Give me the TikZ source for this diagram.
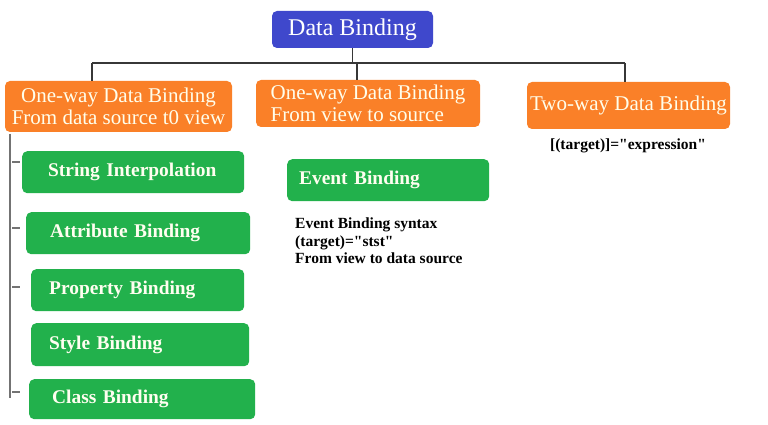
\documentclass[tikz,border=0pt]{standalone}
\usepackage{fontspec}
\setmainfont{Liberation Serif}
\newfontfamily\quotefont{Liberation Serif}
\usepackage{xcolor}
\usepackage{tikz}
\usetikzlibrary{positioning,calc}
\definecolor{titleblue}{RGB}{63,72,204}
\definecolor{warm}{RGB}{250,128,40}
\definecolor{leaf}{RGB}{34,177,76}
\definecolor{wire}{RGB}{55,55,55}
\definecolor{rail}{RGB}{115,115,115}
\newcommand{\dq}{{\quotefont"}}
\tikzset{
  headbox/.style={rectangle, rounded corners=5pt, fill=titleblue, text=white,
                  font=\fontsize{24}{26}\selectfont, inner sep=0pt},
  wayBox/.style={rectangle, rounded corners=5pt, fill=warm, text=white!92!yellow,
                 font=\fontsize{21}{22}\selectfont, inner sep=0pt},
  leafbox/.style={rectangle, rounded corners=5pt, fill=leaf, text=white!94!yellow,
                  font=\bfseries\fontsize{19.4}{22}\selectfont, align=left,
                  inner ysep=0pt, anchor=north west},
  note/.style={font=\bfseries\fontsize{15.5}{17.5}\selectfont, inner sep=0pt, align=left},
  conn/.style={draw=wire, line width=1.1pt},
  railline/.style={draw=rail, line width=1.4pt},
}
\begin{document}
\begin{tikzpicture}[x=1pt,y=-1pt]
  \useasboundingbox[fill=white] (0,0) rectangle (768,425);
  % top of the tree
  \node[headbox, minimum width=161pt, minimum height=37pt] (title) at (352.5,29.5) {Data Binding};
  % three kinds of binding
  \node[wayBox, minimum width=227pt, minimum height=51pt, align=center] (ow1) at (118.5,106.5)
       {One-way Data Binding\\From data source t0 view};
  \node[wayBox, minimum width=224pt, minimum height=47pt, align=left] (ow2) at (368,103.5)
       {One-way Data Binding\\From view to source};
  \node[wayBox, minimum width=203pt, minimum height=47pt] (tw) at (628.5,105.5) {Two-way Data Binding};
  % bus
  \coordinate (busL) at (92,63);
  \coordinate (busM) at (357,63);
  \coordinate (busR) at (625,63);
  \draw[conn] (busL) -- (busR);
  \draw[conn] (title.south) -- (title.south |- busL);
  \draw[conn] (busL) -- (busL |- ow1.north);
  \draw[conn] (busM) -- (busM |- ow2.north);
  \draw[conn] (busR) -- (busR |- tw.north);
  % one-way, source to view
  \node[leafbox, inner xsep=26pt, text width=170pt, minimum height=42pt] (strint) at (22,151) {String Interpolation};
  \node[leafbox, inner xsep=24pt, text width=176pt, minimum height=42pt] (attr) at (26,212) {Attribute Binding};
  \node[leafbox, inner xsep=18pt, text width=177pt, minimum height=42pt] (prop) at (31,269) {Property Binding};
  \node[leafbox, inner xsep=18pt, text width=182pt, minimum height=43pt] (style) at (31,323) {Style Binding};
  \node[leafbox, inner xsep=23pt, text width=180pt, minimum height=40pt] (cls) at (29,379) {Class Binding};
  \coordinate (railTop) at (10,134);
  \coordinate (railBot) at (10,398);
  \draw[railline] (railTop) -- (railBot);
  \foreach \y in {162,228,287,392}
    \draw[railline, line width=1.1pt] (12,\y) -- (20,\y);
  % one-way, view to source
  \node[leafbox, inner xsep=12pt, text width=178pt, minimum height=42pt] (event) at (287,159) {Event Binding};
  \node[note, anchor=north west] (evsyntax) at (295,218)
       {Event Binding syntax\\(target)=\dq stst\dq\\From view to data source};
  % two-way
  \node[note, anchor=north] (expr) at (628,139) {[(target)]=\dq expression\dq};
\end{tikzpicture}
\end{document}
